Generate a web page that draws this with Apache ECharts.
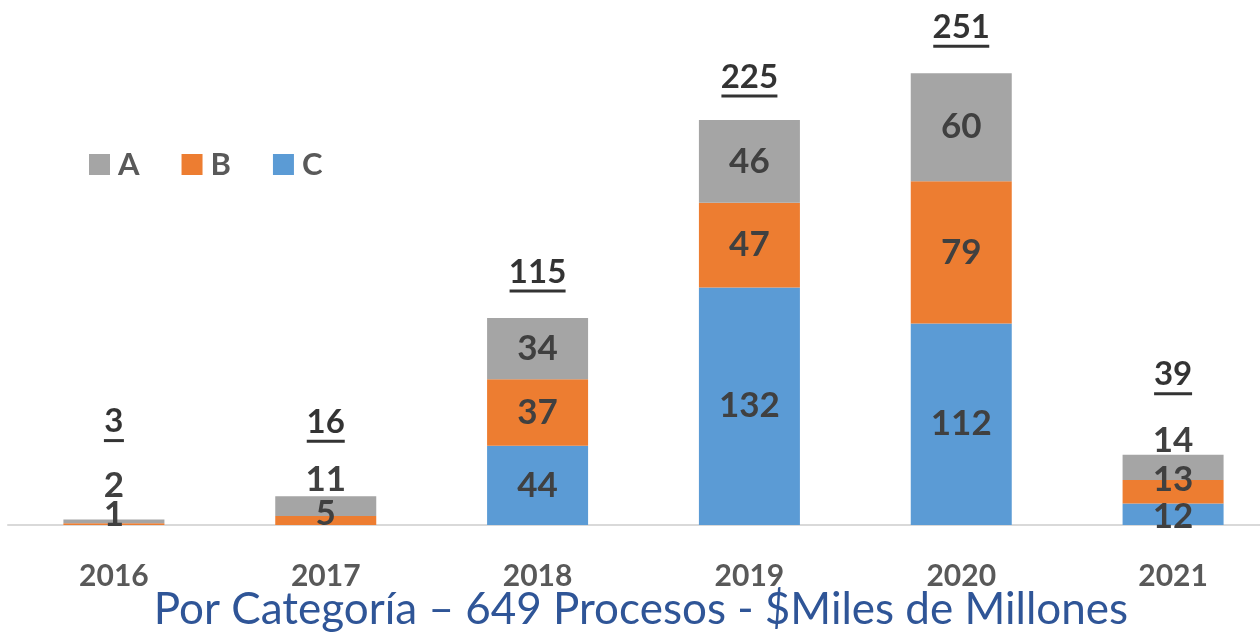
<!DOCTYPE html>
<html>
<head>
<meta charset="utf-8">
<script src="https://cdn.jsdelivr.net/npm/echarts@6/dist/echarts.min.js"></script>
<style>
  html, body { margin: 0; padding: 0; background: #fff; overflow: hidden; }
  #main { width: 1282px; height: 633px; }
</style>
</head>
<body>
<div id="main"></div>
<script>
var years = ['2016', '2017', '2018', '2019', '2020', '2021'];
var seriesC = [0, 0, 44, 132, 112, 12];
var seriesB = [1, 5, 37, 47, 79, 13];
var seriesA = [2, 11, 34, 46, 60, 14];

var totals = years.map(function (y, i) {
    return seriesA[i] + seriesB[i] + seriesC[i];
});

// label nudges for the small segments (px, vertical)
var nudgeC = [0, 0, 0, 0, 0, 3];
var nudgeB = [-9, -7, 0, 0, 0, -12];
var nudgeA = [-36, -26, 0, 0, 0, -27];
var nudgeTotal = [-99, -75, -47, -44, -47, -81];

var font = 'Lato, "Open Sans", sans-serif';
var segLabel = {
    show: true,
    position: 'inside',
    color: '#404040',
    fontFamily: font,
    fontWeight: 'bold',
    fontSize: 35
};

var makeData = function (values, nudges) {
    return values.map(function (v, i) {
        var item = { value: v };
        if (v === 0) {
            item.label = { show: false };
        } else if (nudges[i] !== 0) {
            item.label = { offset: [0, nudges[i]] };
        }
        return item;
    });
};

var totalFont = 33;
var totalData = totals.map(function (v, i) {
    return { value: v, label: { offset: [0, nudgeTotal[i] + 3] } };
});

var myChart = echarts.init(document.getElementById('main'));
myChart.setOption({
    backgroundColor: '#ffffff',
    animation: false,
    title: {
        text: 'Por Categoría – 649 Procesos - $Miles de Millones',
        left: 'center',
        bottom: -4,
        textStyle: {
            color: '#2F5597',
            fontFamily: font,
            fontWeight: 'normal',
            fontSize: 44
        }
    },
    legend: {
        left: 84,
        top: 144,
        itemWidth: 21,
        itemHeight: 21,
        itemGap: 42,
        icon: 'rect',
        data: ['A', 'B', 'C'],
        textStyle: {
            color: '#595959',
            fontFamily: font,
            fontWeight: 'bold',
            fontSize: 31,
            padding: [0, 0, 0, 3]
        }
    },
    grid: {
        left: 8,
        right: 3,
        top: 21,
        bottom: 108
    },
    xAxis: {
        type: 'category',
        data: years,
        axisLine: { lineStyle: { color: '#d9d9d9', width: 2 } },
        axisTick: { show: false },
        axisLabel: {
            margin: 36,
            color: '#595959',
            fontFamily: font,
            fontWeight: 'bold',
            fontSize: 30
        }
    },
    yAxis: {
        type: 'value',
        min: 0,
        max: 280,
        show: false,
        splitLine: { show: false }
    },
    series: [
        {
            name: 'C',
            type: 'bar',
            stack: 'total',
            barWidth: 101,
            itemStyle: { color: '#5B9BD5' },
            label: segLabel,
            data: makeData(seriesC, nudgeC)
        },
        {
            name: 'B',
            type: 'bar',
            stack: 'total',
            barWidth: 101,
            itemStyle: { color: '#ED7D31' },
            label: segLabel,
            data: makeData(seriesB, nudgeB)
        },
        {
            name: 'A',
            type: 'bar',
            stack: 'total',
            barWidth: 101,
            itemStyle: { color: '#A5A5A5' },
            label: segLabel,
            data: makeData(seriesA, nudgeA)
        },
        {
            name: 'Total',
            type: 'scatter',
            symbolSize: 0,
            silent: true,
            z: 5,
            label: {
                show: true,
                position: 'inside',
                formatter: function (p) {
                    var s = String(p.value);
                    return '{t|' + s + '}\n{u' + s.length + '| }';
                },
                rich: {
                    t: {
                        color: '#000',
                        fontFamily: font,
                        fontWeight: 'bold',
                        fontSize: totalFont,
                        lineHeight: 34
                    },
                    u1: { width: 20, height: 3, lineHeight: 4, backgroundColor: '#000', fontSize: 1 },
                    u2: { width: 38, height: 3, lineHeight: 4, backgroundColor: '#000', fontSize: 1 },
                    u3: { width: 56, height: 3, lineHeight: 4, backgroundColor: '#000', fontSize: 1 }
                }
            },
            data: totalData
        }
    ]
});
</script>
</body>
</html>
